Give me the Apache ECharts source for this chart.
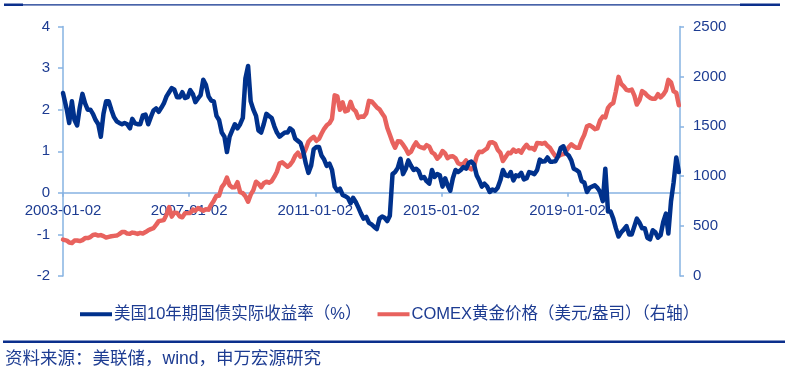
<!DOCTYPE html>
<html>
<head>
<meta charset="utf-8">
<script src="https://cdn.jsdelivr.net/npm/echarts@6/dist/echarts.min.js"></script>
<style>
html,body{margin:0;padding:0;background:#fff;}
#chart{width:785px;height:376px;}
</style>
</head>
<body>
<div id="chart"></div>
<script>
// Monthly series, Jan 2003 .. Jul 2022
const startDate = '2003-01-02';
const endDate = '2022-07-28';
const xTickLabels = ['2003-01-02', '2007-01-02', '2011-01-02', '2015-01-02', '2019-01-02'];
const leftAxisTicks = [-2, -1, 0, 1, 2, 3, 4];
const rightAxisTicks = [0, 500, 1000, 1500, 2000, 2500];
const seriesNames = ['美国10年期国债实际收益率（%）', 'COMEX黄金价格（美元/盎司）（右轴）'];

const realYield = [
  2.40, 2.00, 1.68, 2.20, 1.75, 1.62, 2.05, 2.38, 2.15, 2.00, 2.00, 1.90,
  1.75, 1.65, 1.35, 1.90, 2.20, 2.20, 2.00, 1.82, 1.72, 1.68, 1.65, 1.68,
  1.65, 1.55, 1.78, 1.67, 1.65, 1.65, 1.86, 1.88, 1.65, 1.82, 1.98, 2.03,
  1.95, 2.05, 2.15, 2.32, 2.42, 2.52, 2.48, 2.30, 2.30, 2.42, 2.28, 2.30,
  2.47, 2.37, 2.18, 2.27, 2.35, 2.72, 2.60, 2.32, 2.22, 2.20, 1.85, 1.75,
  1.45, 1.35, 0.98, 1.35, 1.50, 1.65, 1.55, 1.65, 1.80, 2.75, 3.05, 2.20,
  2.00, 1.85, 1.50, 1.45, 1.65, 1.90, 1.85, 1.80, 1.60, 1.45, 1.35, 1.40,
  1.45, 1.45, 1.55, 1.50, 1.30, 1.25, 1.20, 1.00, 0.70, 0.48, 0.65, 1.05,
  1.10, 1.10, 0.90, 0.80, 0.65, 0.70, 0.55, 0.15, 0.05, 0.10, -0.05, -0.08,
  -0.12, -0.25, -0.12, -0.22, -0.35, -0.50, -0.62, -0.58, -0.72, -0.76, -0.82, -0.87,
  -0.62, -0.57, -0.60, -0.68, -0.55, 0.45, 0.50, 0.60, 0.82, 0.45, 0.58, 0.78,
  0.65, 0.55, 0.58, 0.52, 0.35, 0.38, 0.28, 0.22, 0.55, 0.38, 0.45, 0.42,
  0.15, 0.35, 0.18, 0.05, 0.35, 0.55, 0.50, 0.55, 0.62, 0.58, 0.72, 0.75,
  0.68, 0.42, 0.30, 0.15, 0.22, 0.15, 0.02, 0.08, 0.05, 0.12, 0.30, 0.55,
  0.42, 0.40, 0.50, 0.30, 0.42, 0.40, 0.48, 0.32, 0.35, 0.50, 0.48, 0.45,
  0.55, 0.80, 0.75, 0.76, 0.85, 0.75, 0.75, 0.76, 0.88, 1.08, 1.12, 0.95,
  0.90, 0.78, 0.58, 0.55, 0.50, 0.28, 0.25, 0.02, 0.12, 0.15, 0.18, 0.12,
  0.02, -0.20, 0.58, -0.45, -0.45, -0.62, -0.85, -1.05, -0.95, -0.88, -0.80, -1.00,
  -1.00, -0.80, -0.62, -0.72, -0.85, -0.85, -1.08, -1.12, -0.90, -0.95, -1.08, -1.02,
  -0.70, -0.50, -0.98, -0.20, 0.25, 0.85, 0.50
];

const goldPrice = [
  365, 355, 335, 330, 355, 355, 350, 360, 380, 380, 390, 410,
  415, 405, 410, 400, 385, 392, 398, 402, 405, 420, 440, 442,
  425, 423, 435, 430, 422, 432, 425, 440, 458, 470, 480, 512,
  550, 555, 560, 615, 690, 595, 635, 632, 598, 588, 628, 630,
  632, 665, 655, 680, 668, 655, 668, 665, 715, 755, 805, 805,
  890, 925, 985, 910, 888, 890, 940, 840, 830, 800, 745, 815,
  860, 945, 925, 890, 930, 945, 935, 950, 995, 1045, 1130, 1140,
  1118, 1095, 1113, 1150, 1205, 1235, 1195, 1215, 1275, 1345, 1375, 1395,
  1355, 1375, 1425, 1475, 1510, 1530, 1575, 1810, 1800, 1665, 1740, 1650,
  1660, 1745, 1675, 1650, 1585, 1598, 1595, 1630, 1755, 1750, 1720, 1690,
  1670, 1628, 1593, 1485, 1415, 1340, 1285, 1350, 1348, 1316, 1275, 1225,
  1245, 1300, 1338, 1300, 1288, 1280, 1312, 1296, 1238, 1222, 1175, 1200,
  1252, 1228, 1180, 1198, 1200, 1180, 1130, 1118, 1125, 1158, 1085, 1068,
  1098, 1202, 1246, 1242, 1260, 1278, 1338, 1340, 1326, 1266, 1236, 1152,
  1192, 1234, 1231, 1267, 1246, 1260, 1236, 1283, 1315, 1280, 1283, 1265,
  1332, 1331, 1325, 1335, 1304, 1282, 1238, 1202, 1199, 1215, 1221, 1250,
  1291, 1320, 1300, 1286, 1284, 1360, 1414, 1500, 1511, 1495, 1471, 1480,
  1560, 1598, 1590, 1685, 1717, 1733, 1850, 1995, 1925, 1900, 1865, 1858,
  1867, 1808, 1718, 1762, 1852, 1835, 1807, 1785, 1775, 1777, 1822, 1790,
  1817, 1858, 1965, 1940, 1850, 1836, 1710
];

const DAY = 86400000;
function parseDate(s) { const p = s.split('-').map(Number); return Date.UTC(p[0], p[1] - 1, p[2]); }
const t0 = parseDate(startDate);
const tEnd = parseDate(endDate);
function pad(n) { return (n < 10 ? '0' : '') + n; }
function fmt(v) {
  const d = new Date(t0 + Math.round(v) * DAY);
  return d.getUTCFullYear() + '-' + pad(d.getUTCMonth() + 1) + '-' + pad(d.getUTCDate());
}
// x position of monthly point i: mid-month (first point on the start date)
const days = realYield.map((_, i) => i === 0 ? 0 : (Date.UTC(2003, i, 15) - t0) / DAY);
const xTickValues = xTickLabels.map(s => (parseDate(s) - t0) / DAY);
const xMax = (tEnd - t0) / DAY;

const blueData = realYield.map((v, i) => [days[i], v]);
const redData = goldPrice.map((v, i) => [days[i], v]);

// layout
const W = 785, H = 376;
const gridTop = 26.5, gridBottom = 100;
const gridH = H - gridTop - gridBottom;
const lMin = leftAxisTicks[0], lMax = leftAxisTicks[leftAxisTicks.length - 1];
// place the x axis at the zero line of the left axis
const xAxisOffset = -gridH * (0 - lMin) / (lMax - lMin);

const navy = '#1D3C92';
const axisBlue = '#86B3E2';
const labelFont = { fontFamily: "'Liberation Sans', Arial, sans-serif", fontSize: 15, color: navy };

const chart = echarts.init(document.getElementById('chart'), null, { renderer: 'canvas' });
chart.setOption({
  animation: false,
  backgroundColor: '#ffffff',
  grid: { left: 63, right: 105, top: gridTop, bottom: gridBottom, containLabel: false },
  legend: {
    left: 75, top: 301,
    icon: 'rect', itemWidth: 32, itemHeight: 4, itemGap: 16,
    textStyle: { fontFamily: "'Liberation Sans', 'Noto Sans CJK SC', sans-serif", fontSize: 16.5, color: navy, padding: [0, 0, 0, -3] },
    data: seriesNames
  },
  xAxis: {
    type: 'value',
    min: 0, max: xMax, interval: 1461,
    offset: xAxisOffset,
    axisLine: { onZero: false, lineStyle: { color: axisBlue, width: 1.5 } },
    axisTick: { show: true, length: 4, lineStyle: { color: axisBlue, width: 1.5 }, customValues: xTickValues },
    axisLabel: Object.assign({ margin: 11, customValues: xTickValues,
      formatter: v => (Math.abs(v % 1461) < 1e-6 ? fmt(v) : '') }, labelFont),
    splitLine: { show: false }
  },
  yAxis: [
    {
      type: 'value',
      min: lMin, max: lMax, interval: leftAxisTicks[1] - leftAxisTicks[0],
      axisLine: { show: true, onZero: false, lineStyle: { color: axisBlue, width: 1.5 } },
      axisTick: { show: true, length: 5, lineStyle: { color: axisBlue, width: 1.5 } },
      axisLabel: Object.assign({ margin: 13, formatter: v => String(v) }, labelFont),
      splitLine: { show: false }
    },
    {
      type: 'value',
      position: 'right',
      min: rightAxisTicks[0], max: rightAxisTicks[rightAxisTicks.length - 1], interval: rightAxisTicks[1] - rightAxisTicks[0],
      axisLine: { show: true, onZero: false, lineStyle: { color: axisBlue, width: 1.5 } },
      axisTick: { show: true, length: 4, lineStyle: { color: axisBlue, width: 1.5 } },
      axisLabel: Object.assign({ margin: 13, formatter: v => String(v) }, labelFont),
      splitLine: { show: false }
    }
  ],
  series: [
    {
      name: seriesNames[0], type: 'line', yAxisIndex: 0, data: blueData,
      showSymbol: false, symbol: 'none', z: 3,
      lineStyle: { color: '#00318C', width: 4.5, join: 'round', cap: 'round' },
      itemStyle: { color: '#00318C' }
    },
    {
      name: seriesNames[1], type: 'line', yAxisIndex: 1, data: redData,
      showSymbol: false, symbol: 'none', z: 2,
      lineStyle: { color: '#E8625E', width: 4.5, join: 'round', cap: 'round' },
      itemStyle: { color: '#E8625E' }
    }
  ],
  graphic: [
    { type: 'rect', shape: { x: 4, y: 3.5, width: 19, height: 2.5 }, style: { fill: '#0B2F8C' } },
    { type: 'rect', shape: { x: 23, y: 4.2, width: 717, height: 1.2 }, style: { fill: '#0B2F8C' } },
    { type: 'rect', shape: { x: 740, y: 3.5, width: 40, height: 2.5 }, style: { fill: '#0B2F8C' } },
    { type: 'rect', shape: { x: 3, y: 340.5, width: 782, height: 2.5 }, style: { fill: '#0B2F8C' } },
    { type: 'text', left: 5, top: 350,
      style: { text: '资料来源：美联储，wind，申万宏源研究', fill: navy,
        font: "17.5px 'Liberation Sans', 'Noto Sans CJK SC', sans-serif" } }
  ]
});
</script>
</body>
</html>
